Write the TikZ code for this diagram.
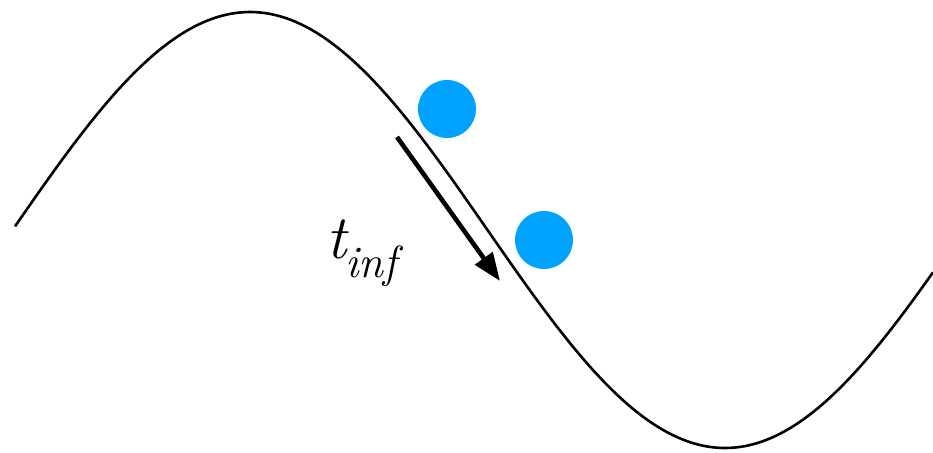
\documentclass[tikz,border=0pt]{standalone}
\usetikzlibrary{arrows.meta}
\definecolor{ballblue}{RGB}{0,162,255}
\begin{document}
\begin{tikzpicture}[x=1pt,y=-1pt,
  wave/.style={line width=2.6pt,line join=round},
  ball/.style={circle,fill=ballblue,minimum size=58pt,inner sep=0pt,draw=none},
  motion/.style={line width=4.6pt,-{Triangle[length=28pt,width=21pt]}},
  lbl/.style={anchor=base west,inner sep=0pt}]
\useasboundingbox (0,0) rectangle (933,452);
\draw[wave] plot[domain=15:933,samples=240,smooth] (\x,{230-218*cos((\x-250)/950*360)});
\node[ball] (b1) at (447,109) {};
\node[ball] (b2) at (544,240) {};
\coordinate (a1) at (397,137);
\coordinate (a2) at (500,281);
\draw[motion] (a1) -- (a2);
\node[lbl] (t) at (326,258) {\fontsize{62}{62}\selectfont\itshape t\kern-1pt\raisebox{-19pt}{\fontsize{45}{45}\selectfont\itshape inf}};
\end{tikzpicture}
\end{document}
